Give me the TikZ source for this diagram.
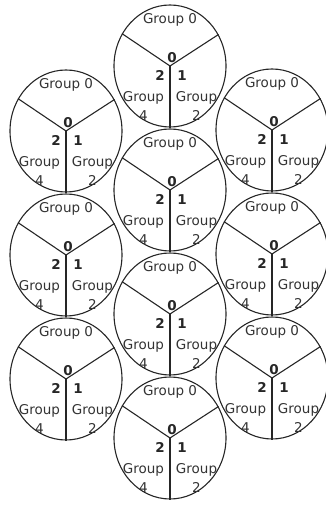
\documentclass[tikz,border=0pt]{standalone}
\usepackage{fontspec}
\setmainfont{DejaVu Sans}
\usetikzlibrary{shapes.geometric}

\tikzset{
  cell/.style={draw=black!85, line width=1.1pt, ellipse, minimum width=112pt, minimum height=122pt, inner sep=0pt},
  spoke/.style={draw=black!85, line width=1.1pt},
  grp/.style={align=center, inner sep=0pt, text=black!80, font=\fontsize{13.5}{19}\selectfont},
  num/.style={inner sep=0pt, text=black!85, font=\fontsize{13.5}{16}\selectfont\bfseries}
}

% one circle with its three sectors
\newcommand{\groupcell}[3]{%
  \node[cell] (#1) at (#2,#3) {};
  \draw[spoke] (#1.center) -- (#1.146);
  \draw[spoke] (#1.center) -- (#1.33);
  \draw[spoke] (#1.center) -- (#1.south);
  \node[grp] (#1-top) at ([yshift=46pt]#1.center) {Group 0};
  \node[num] (#1-n0) at ([xshift=2pt,yshift=8pt]#1.center) {0};
  \node[num] (#1-n2) at ([xshift=-10pt,yshift=-9pt]#1.center) {2};
  \node[num] (#1-n1) at ([xshift=12pt,yshift=-10pt]#1.center) {1};
  \node[grp] (#1-left) at ([xshift=-26.5pt,yshift=-40pt]#1.center) {Group\\4};
  \node[grp] (#1-right) at ([xshift=26.5pt,yshift=-40pt]#1.center) {Group\\2};
}

\begin{document}
\begin{tikzpicture}[x=1pt,y=1pt]
\useasboundingbox (0,0) rectangle (326,506);

% middle column
\groupcell{m1}{170}{440}
\groupcell{m2}{170}{316}
\groupcell{m3}{170}{192}
\groupcell{m4}{170}{68}

% left column
\groupcell{l1}{66}{375}
\groupcell{l2}{66}{251}
\groupcell{l3}{66}{127}

% right column
\groupcell{r1}{272}{376}
\groupcell{r2}{272}{252}
\groupcell{r3}{272}{128}
\end{tikzpicture}
\end{document}
